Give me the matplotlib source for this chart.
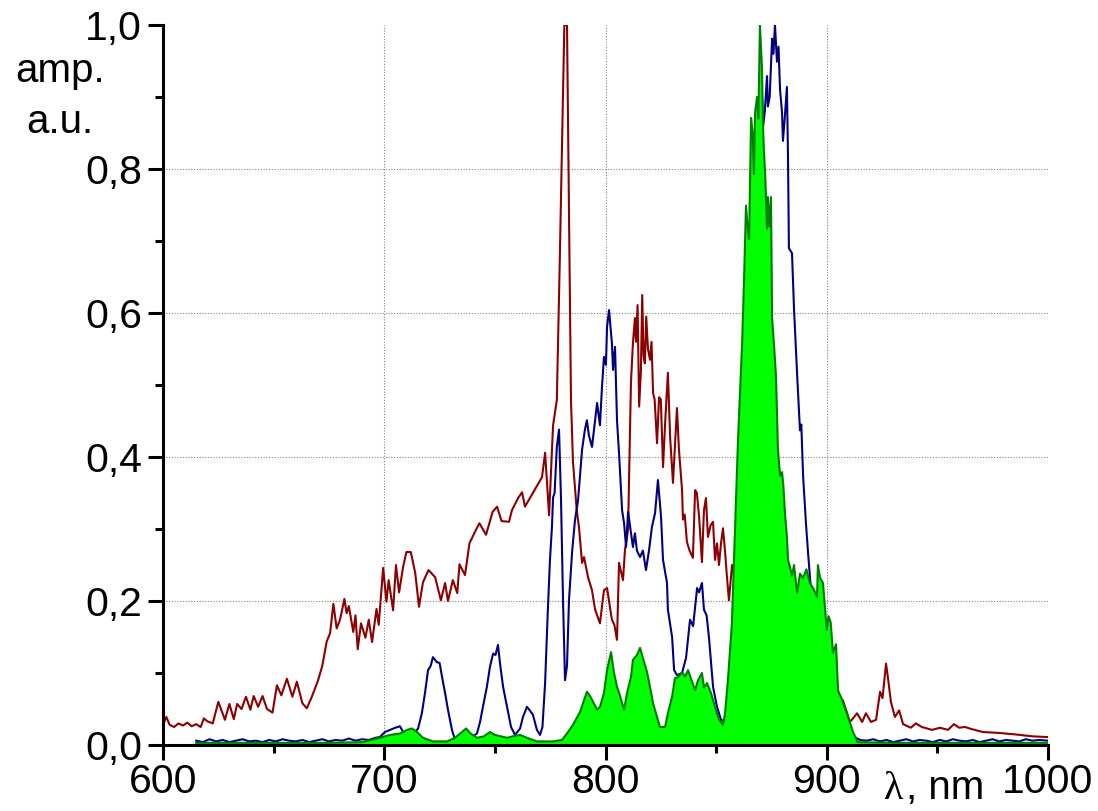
import matplotlib
matplotlib.use("Agg")
import matplotlib.pyplot as plt

plt.rcParams['font.family'] = ['Liberation Sans', 'DejaVu Sans']

# (wavelength nm, amplitude)
red_pts = [
    (600, 0.028), (601.5, 0.039), (603, 0.028), (605, 0.025), (607, 0.03), (609, 0.027), (611, 0.031),
    (613, 0.026), (615, 0.029), (617, 0.025), (618.5, 0.037), (620, 0.033), (622.5, 0.03), (625, 0.06),
    (628, 0.035), (630, 0.057), (632, 0.036), (633.5, 0.057), (635.5, 0.05), (637.5, 0.067), (639.5, 0.049),
    (641, 0.068), (643, 0.053), (645, 0.068), (647, 0.05), (649.5, 0.045), (651.5, 0.083), (653.5, 0.069),
    (656, 0.092), (658.5, 0.067), (660.5, 0.088), (663, 0.058), (665, 0.051), (667, 0.065), (670, 0.089),
    (672, 0.11), (674, 0.144), (675.5, 0.155), (677, 0.196), (678.5, 0.162), (680, 0.174), (682, 0.203),
    (683, 0.183), (684, 0.193), (686, 0.157), (687, 0.18), (688, 0.133), (689.5, 0.169), (691.5, 0.149),
    (693, 0.174), (694.5, 0.143), (696.5, 0.189), (697.5, 0.167), (699.5, 0.246), (701, 0.199), (702, 0.229),
    (704, 0.187), (705.3, 0.25), (706.7, 0.212), (708.5, 0.247), (710, 0.268), (712, 0.268), (714, 0.239),
    (715.7, 0.192), (717.5, 0.226), (720, 0.243), (723, 0.233), (725.6, 0.201), (727.5, 0.225), (728.8, 0.2),
    (731, 0.229), (733, 0.211), (734, 0.251), (736.5, 0.236), (738.5, 0.28), (741, 0.296), (743, 0.308),
    (746, 0.292), (749, 0.324), (751, 0.331), (753, 0.311), (756.4, 0.31), (757.7, 0.326), (760.5, 0.343),
    (762.3, 0.351), (763.6, 0.331), (771.3, 0.372), (772.7, 0.406), (774.5, 0.319), (776.3, 0.444),
    (778, 0.479), (779.4, 0.683), (781.4, 1.0), (782.6, 1.0), (784.4, 0.479), (785.3, 0.393), (787, 0.326),
    (788, 0.303), (789.4, 0.253), (790.3, 0.261), (792.1, 0.233), (793.9, 0.215), (795.3, 0.188),
    (797.5, 0.169), (799.3, 0.215), (800.7, 0.218), (802.9, 0.174), (804, 0.167), (805.2, 0.146),
    (806.1, 0.253), (807.9, 0.229), (808.8, 0.271), (810.2, 0.299), (811.5, 0.503), (812.4, 0.558),
    (813.3, 0.593), (813.8, 0.56), (814.5, 0.611), (815.2, 0.47), (816, 0.52), (816.6, 0.625), (817.2, 0.54),
    (817.8, 0.53), (818.4, 0.595), (819.2, 0.55), (820.1, 0.535), (820.8, 0.56), (821.5, 0.489),
    (822.2, 0.48), (823.3, 0.419), (824.2, 0.483), (825, 0.48), (826, 0.386), (827, 0.45), (828.2, 0.517),
    (829.2, 0.428), (830.5, 0.364), (832.3, 0.468), (833.2, 0.41), (834.6, 0.354), (835, 0.313),
    (835.8, 0.32), (836.8, 0.282), (838, 0.27), (839.5, 0.26), (840.5, 0.354), (841.3, 0.35), (842.3, 0.317),
    (843.6, 0.254), (844.5, 0.326), (845.4, 0.343), (846.3, 0.289), (847.5, 0.305), (848.6, 0.31),
    (849.5, 0.257), (850.4, 0.28), (851.3, 0.25), (852.2, 0.28), (853.1, 0.301), (854, 0.27), (854.9, 0.233),
    (855.8, 0.201), (857.2, 0.25), (860, 0.2), (865, 0.17), (870, 0.14), (880, 0.11), (890, 0.09),
    (900, 0.075), (907.3, 0.062), (910.5, 0.032), (913.7, 0.044), (916, 0.032), (917.7, 0.044), (920, 0.032),
    (922.3, 0.035), (924.1, 0.074), (925.2, 0.065), (926.8, 0.113), (927.8, 0.09), (929, 0.06),
    (930.8, 0.039), (932.7, 0.048), (934.5, 0.029), (938, 0.024), (940.3, 0.03), (943, 0.025),
    (947.6, 0.021), (951.2, 0.024), (954.8, 0.021), (957.5, 0.029), (959.8, 0.024), (962.5, 0.025),
    (965.6, 0.022), (970.6, 0.018), (976.9, 0.017), (984.2, 0.015), (993.2, 0.012), (1000, 0.011),
]

blue_pts = [
    (615, 0.006), (618, 0.004), (621, 0.008), (624, 0.005), (627, 0.007), (630, 0.004), (633, 0.006),
    (636, 0.008), (639, 0.005), (642, 0.006), (645, 0.004), (648, 0.007), (651, 0.005), (654, 0.008),
    (657, 0.006), (660, 0.005), (663, 0.007), (666, 0.004), (669, 0.006), (672, 0.008), (675, 0.005),
    (678, 0.007), (681, 0.006), (684, 0.009), (687, 0.006), (690, 0.008), (693, 0.007), (696, 0.01),
    (698, 0.011), (700.3, 0.018), (702.6, 0.021), (705, 0.024), (707.1, 0.026), (708.5, 0.018),
    (710.5, 0.016), (713, 0.014), (715.3, 0.023), (717, 0.044), (718.4, 0.072), (719.8, 0.104), (721, 0.11),
    (722, 0.122), (723.8, 0.115), (725, 0.114), (726.1, 0.095), (727.5, 0.072), (728.8, 0.049),
    (730.6, 0.021), (732, 0.007), (735, 0.007), (737.4, 0.01), (740, 0.012), (741.9, 0.016), (743.3, 0.032),
    (744.6, 0.053), (746.4, 0.081), (747.8, 0.109), (749.2, 0.127), (750.3, 0.125), (751.4, 0.139),
    (752.3, 0.114), (753.7, 0.081), (755.5, 0.053), (757.3, 0.025), (759.1, 0.014), (761.4, 0.023),
    (762.7, 0.039), (764.5, 0.053), (765.8, 0.048), (767.2, 0.042), (769, 0.021), (770.4, 0.014),
    (771.5, 0.025), (772.7, 0.086), (774, 0.192), (774.9, 0.257), (775.8, 0.303), (776.3, 0.344),
    (777, 0.35), (778, 0.414), (779, 0.438), (779.9, 0.34), (780.8, 0.201), (781.7, 0.09), (782.6, 0.11),
    (783.5, 0.201), (784.9, 0.268), (786.2, 0.312), (787.6, 0.34), (789.4, 0.41), (790.7, 0.438),
    (791.6, 0.451), (792.5, 0.43), (793.9, 0.414), (795.3, 0.451), (796.2, 0.475), (797.5, 0.444),
    (798.4, 0.497), (799.3, 0.539), (800.2, 0.528), (800.7, 0.581), (801.6, 0.604), (802.9, 0.558),
    (803.4, 0.521), (804.3, 0.553), (805.2, 0.451), (806.1, 0.406), (807.5, 0.326), (808.4, 0.308),
    (809.3, 0.275), (810.2, 0.324), (811.3, 0.3), (812.4, 0.275), (813.3, 0.294), (814.2, 0.27),
    (815.6, 0.261), (816.9, 0.27), (818.3, 0.243), (819.7, 0.271), (821, 0.303), (822.4, 0.322),
    (823.7, 0.368), (825.1, 0.317), (826, 0.257), (827.8, 0.225), (828.2, 0.188), (830.1, 0.15),
    (831, 0.104), (832.3, 0.097), (834.6, 0.1), (836.4, 0.121), (838.2, 0.174), (839.6, 0.165),
    (841.4, 0.218), (842.3, 0.212), (843.6, 0.225), (844.5, 0.188), (845.7, 0.18), (846.8, 0.148),
    (848.6, 0.081), (850.4, 0.053), (852.2, 0.035), (853.6, 0.033), (856, 0.05), (858, 0.1), (862, 0.35),
    (865, 0.6), (867.5, 0.8), (870.7, 0.904), (871.2, 0.858), (872, 0.88), (873, 0.929), (873.4, 0.887),
    (874.2, 0.9), (875.3, 0.981), (875.9, 0.96), (876.6, 1.0), (877.5, 0.949), (878.2, 0.97), (878.9, 0.91),
    (879.8, 0.878), (880.2, 0.839), (881, 0.87), (882, 0.914), (882.5, 0.813), (882.9, 0.69), (884.3, 0.683),
    (885.2, 0.606), (886.6, 0.515), (887.9, 0.437), (888.5, 0.445), (889.3, 0.374), (890.6, 0.308),
    (891.5, 0.269), (893, 0.21), (896, 0.17), (900, 0.12), (903, 0.08), (906, 0.05), (909, 0.025),
    (912, 0.012), (915, 0.007), (918, 0.006), (921, 0.008), (924, 0.005), (927, 0.007), (930, 0.004),
    (933, 0.006), (936, 0.008), (939, 0.005), (942, 0.007), (945, 0.006), (948, 0.004), (951, 0.007),
    (954, 0.005), (957, 0.008), (960, 0.006), (963, 0.005), (966, 0.007), (969, 0.004), (972, 0.006),
    (975, 0.008), (978, 0.005), (981, 0.007), (984, 0.006), (987, 0.005), (990, 0.008), (993, 0.006),
    (996, 0.007), (1000, 0.006),
]

green_pts = [
    (615, 0.003), (630, 0.003), (645, 0.003), (660, 0.003), (675, 0.003), (690, 0.004), (698, 0.01),
    (702.6, 0.014), (707.1, 0.016), (710.3, 0.021), (712.5, 0.023), (714.8, 0.018), (717.5, 0.01),
    (722, 0.005), (728.4, 0.005), (732, 0.01), (735.1, 0.018), (737, 0.023), (739, 0.016), (741.9, 0.01),
    (745, 0.012), (747.8, 0.018), (750, 0.014), (755.5, 0.01), (758, 0.012), (761.4, 0.014), (764.5, 0.01),
    (769, 0.005), (776.3, 0.005), (780.3, 0.007), (782.6, 0.016), (785.3, 0.028), (788.5, 0.046),
    (790.3, 0.062), (791.6, 0.074), (793, 0.068), (794.4, 0.06), (796.2, 0.049), (797.5, 0.053),
    (799.3, 0.072), (800.7, 0.104), (802.5, 0.129), (803.8, 0.101), (805.2, 0.081), (806.6, 0.068),
    (808.4, 0.049), (809.7, 0.072), (811.5, 0.094), (812.4, 0.118), (814.2, 0.125), (815.6, 0.135),
    (816.9, 0.121), (818.8, 0.101), (820.1, 0.081), (821.5, 0.058), (823.3, 0.039), (824.6, 0.025),
    (826.9, 0.025), (828.2, 0.044), (830.1, 0.067), (831.4, 0.093), (832.8, 0.094), (834.6, 0.101),
    (836, 0.095), (837.3, 0.104), (839.1, 0.088), (840.5, 0.076), (841.8, 0.09), (843.6, 0.1), (844.5, 0.08),
    (845.9, 0.086), (847.7, 0.072), (849.5, 0.053), (851.3, 0.035), (853.1, 0.028), (854, 0.043),
    (855.3, 0.089), (857.1, 0.167), (858.5, 0.296), (859.9, 0.425), (861.7, 0.554), (862.6, 0.644),
    (863.5, 0.749), (864.2, 0.72), (864.9, 0.703), (865.8, 0.871), (866.5, 0.85), (867.1, 0.793),
    (867.6, 0.878), (868.5, 0.9), (869.1, 0.87), (869.8, 1.0), (870.7, 0.942), (871.2, 0.858),
    (871.6, 0.826), (872.2, 0.79), (873, 0.717), (873.4, 0.761), (874.1, 0.72), (874.8, 0.761),
    (875.3, 0.593), (876.2, 0.554), (877, 0.515), (877.5, 0.464), (877.9, 0.412), (878.9, 0.374),
    (879.8, 0.379), (880.4, 0.36), (881.1, 0.322), (882, 0.289), (882.5, 0.257), (883.4, 0.247),
    (884.3, 0.235), (885.2, 0.25), (886.6, 0.211), (887.9, 0.238), (889.3, 0.232), (890.8, 0.244),
    (892.4, 0.225), (893.8, 0.218), (895.6, 0.206), (896, 0.25), (897, 0.232), (898.3, 0.225), (900, 0.16),
    (900.8, 0.179), (901.8, 0.17), (902.8, 0.128), (904.2, 0.14), (905.1, 0.076), (906.9, 0.063),
    (909.2, 0.043), (911.9, 0.018), (914, 0.004), (930, 0.003), (950, 0.003), (970, 0.003), (1000, 0.003),
]

red_nm, red_amp = zip(*red_pts)
blue_nm, blue_amp = zip(*blue_pts)
green_nm, green_amp = zip(*green_pts)

x_ticks = [600, 700, 800, 900, 1000]
x_labels = ["600", "700", "800", "900", "1000"]
y_ticks = [0.0, 0.2, 0.4, 0.6, 0.8, 1.0]
y_labels = ["0,0", "0,2", "0,4", "0,6", "0,8", "1,0"]

W, H = 1098, 811
fig = plt.figure(figsize=(W / 100, H / 100), dpi=100)
ax = fig.add_axes([163 / W, 1 - 745 / H, (1048 - 163) / W, (745 - 25) / H])

# dotted grid at the inner major ticks
for gx in x_ticks[1:-1]:
    ax.axvline(gx, color="#808080", linestyle=(0, (1, 1.5)), linewidth=0.8, zorder=0)
for gy in y_ticks[1:-1]:
    ax.axhline(gy, color="#808080", linestyle=(0, (1, 1.5)), linewidth=0.8, zorder=0)

ax.plot(red_nm, red_amp, color="#8b0000", linewidth=1.5, zorder=2)
ax.plot(blue_nm, blue_amp, color="#000080", linewidth=1.5, zorder=3)
ax.fill_between(green_nm, 0, green_amp, color="#00ff00", linewidth=0, zorder=4)
ax.plot(green_nm, green_amp, color="#008000", linewidth=1.5, zorder=5)

ax.set_xlim(600, 1000)
ax.set_ylim(0, 1.0)
ax.set_xticks(x_ticks)
ax.set_xticklabels(x_labels)
ax.set_yticks(y_ticks)
ax.set_yticklabels(y_labels)
ax.set_xticks([650, 750, 850, 950], minor=True)
ax.set_yticks([0.1, 0.3, 0.5, 0.7, 0.9], minor=True)

for s in ["top", "right"]:
    ax.spines[s].set_visible(False)
for s in ["left", "bottom"]:
    ax.spines[s].set_linewidth(2.2)
    ax.spines[s].set_zorder(6)

ax.tick_params(which="major", direction="out", length=11, width=2.2, labelsize=29.5, pad=4)
ax.tick_params(which="minor", direction="out", length=6, width=2.2)
ax.tick_params(axis="x", which="major", pad=2)

fig.text(60 / W, 1 - 82 / H, "amp.", ha="center", va="baseline", fontsize=29)
fig.text(60 / W, 1 - 133 / H, "a.u.", ha="center", va="baseline", fontsize=29)
fig.text(884 / W, 1 - 799 / H, "λ", ha="left", va="baseline", fontsize=29,
         family=["Liberation Serif", "DejaVu Serif"])
fig.text(906 / W, 1 - 799 / H, ", nm", ha="left", va="baseline", fontsize=29)

fig.savefig("out.png", dpi=100)
